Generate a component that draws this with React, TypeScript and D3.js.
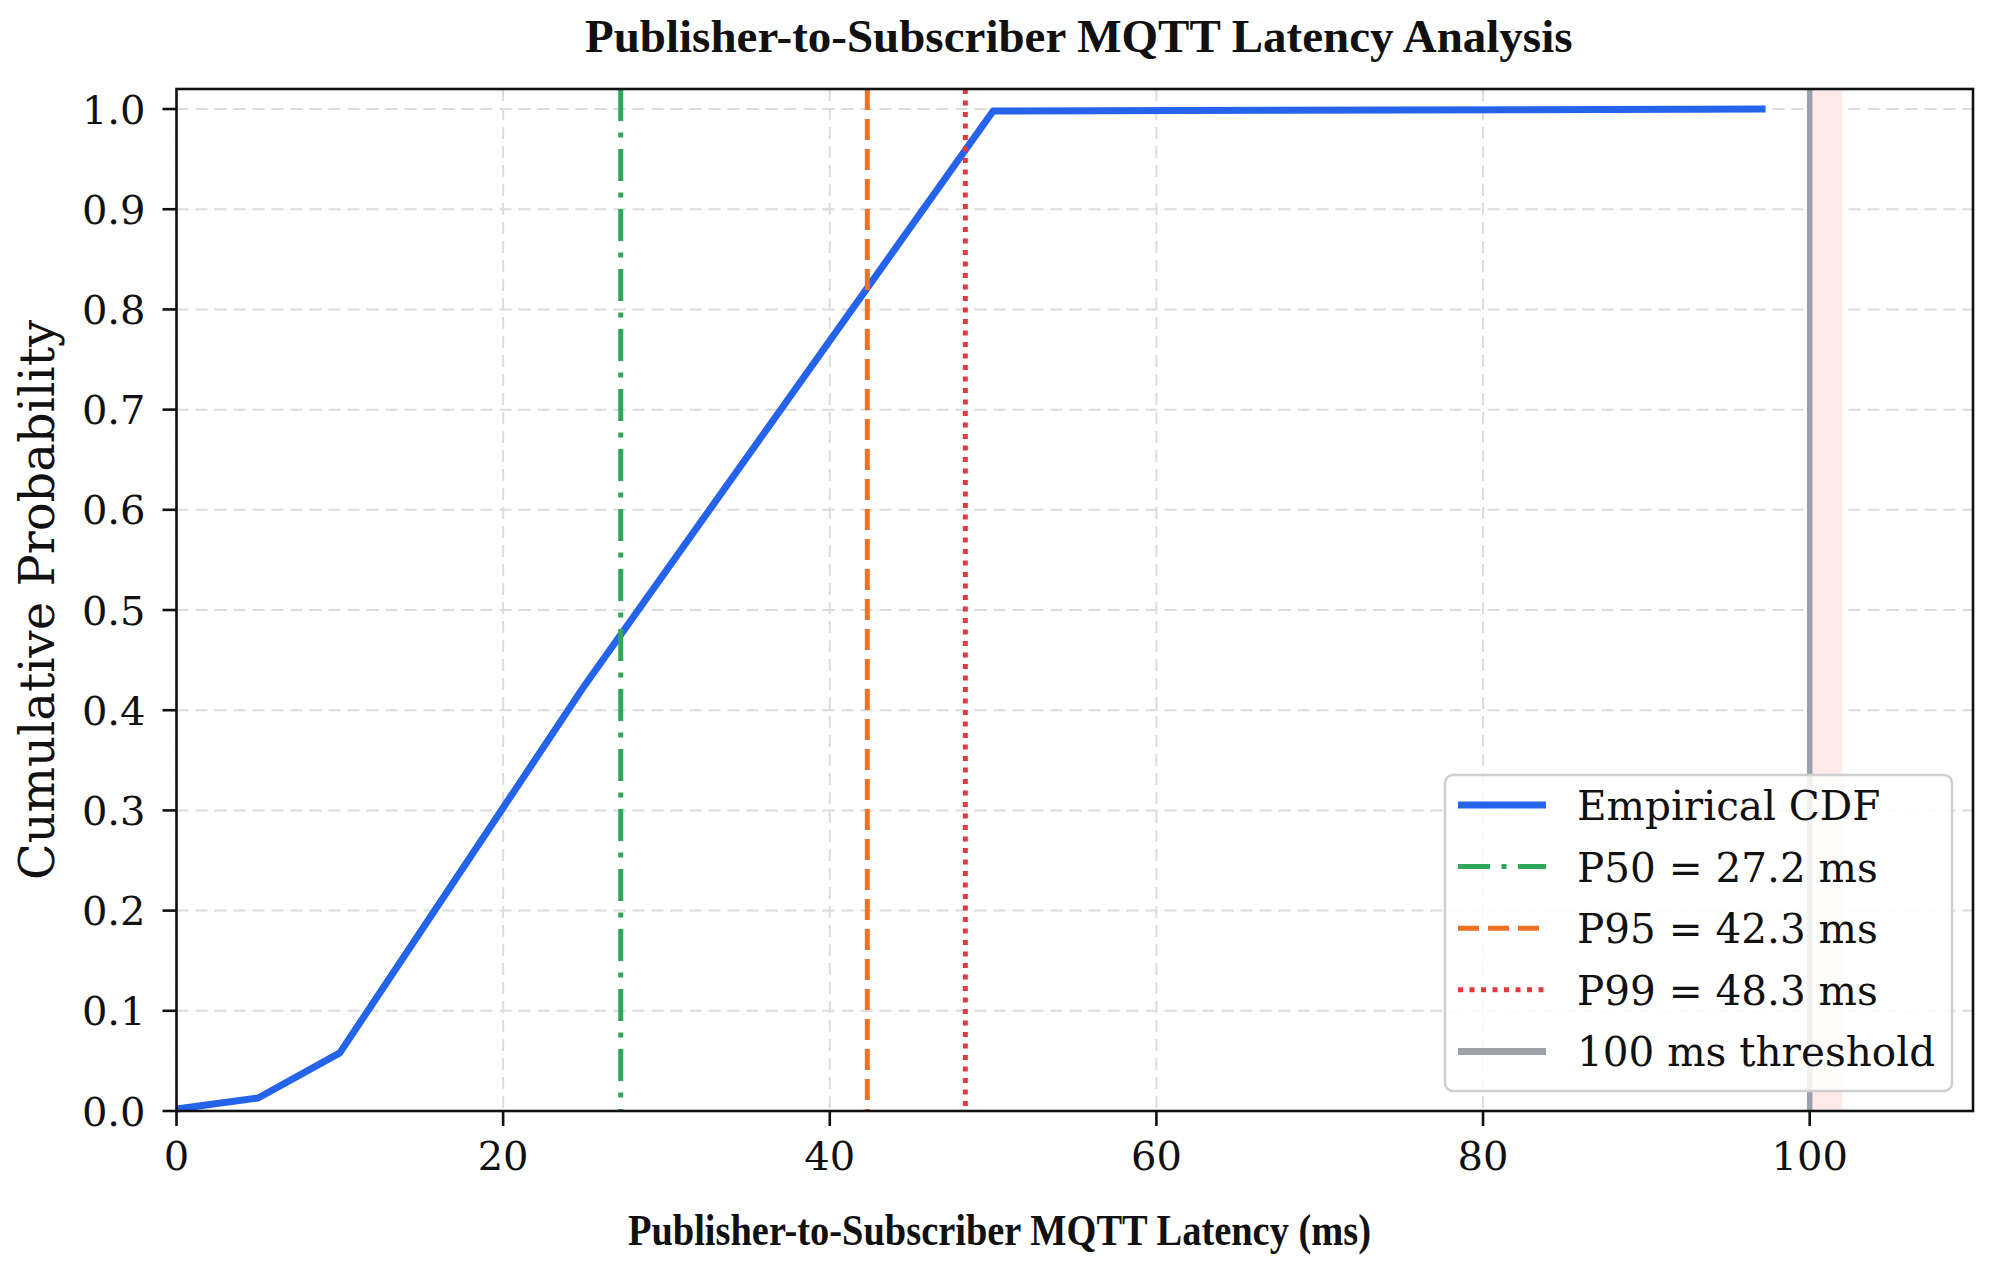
import React, { useEffect, useRef } from 'react';
import * as d3 from 'd3';

// empirical CDF
const cdfLatency = [0, 5, 10, 25, 50, 97.3];
const cdfProb = [0.002, 0.013, 0.058, 0.425, 0.998, 1.0];

const pctNames = ['P50', 'P95', 'P99'];
const pctValues = [27.2, 42.3, 48.3];
const pctColors = ['#2fa85a', '#ef7125', '#e5383b'];
const pctDash = ['32,11.5,5,11.5', '21,9', '5,6.5'];

const thresholdMs = 100;
const thresholdBand = [100, 102];

const xTicks = [0, 20, 40, 60, 80, 100];
const yTicks = [0, 0.1, 0.2, 0.3, 0.4, 0.5, 0.6, 0.7, 0.8, 0.9, 1.0];

const W = 1999;
const H = 1269;
const margin = { left: 176.5, right: 1973, top: 89, bottom: 1111 };

const App: React.FC = () => {
  const svgRef = useRef<SVGSVGElement>(null);

  useEffect(() => {
    if (!svgRef.current) return;
    const svg = d3.select(svgRef.current);
    svg.selectAll('*').remove();

    const x = d3.scaleLinear().domain([0, 110]).range([margin.left, margin.right]);
    const y = d3.scaleLinear().domain([0, 1.02]).range([margin.bottom, margin.top]);

    const serif = "'DejaVu Serif', serif";
    const times = "'Liberation Serif', 'Times New Roman', serif";

    svg.append('rect').attr('width', W).attr('height', H).attr('fill', '#fff');

    // grid
    const grid = svg.append('g').attr('stroke', '#dcdcdc').attr('stroke-width', 2).attr('stroke-dasharray', '12,7');
    grid.selectAll('line.gx').data(xTicks).join('line')
      .attr('x1', d => x(d)).attr('x2', d => x(d))
      .attr('y1', margin.top).attr('y2', margin.bottom);
    grid.selectAll('line.gy').data(yTicks).join('line')
      .attr('x1', margin.left).attr('x2', margin.right)
      .attr('y1', d => y(d)).attr('y2', d => y(d));

    // threshold band + line
    svg.append('rect')
      .attr('x', x(thresholdBand[0])).attr('width', x(thresholdBand[1]) - x(thresholdBand[0]))
      .attr('y', margin.top).attr('height', margin.bottom - margin.top)
      .attr('fill', '#fdeaea');
    svg.append('line')
      .attr('x1', x(thresholdMs)).attr('x2', x(thresholdMs))
      .attr('y1', margin.top).attr('y2', margin.bottom)
      .attr('stroke', '#9ea1a9').attr('stroke-width', 5.5);

    // CDF line
    const line = d3.line<number>().x((d, i) => x(cdfLatency[i])).y(d => y(d));
    svg.append('path')
      .attr('d', line(cdfProb))
      .attr('fill', 'none').attr('stroke', '#2563eb').attr('stroke-width', 7)
      .attr('stroke-linejoin', 'round');

    // percentile lines
    svg.selectAll('line.pct').data(pctValues).join('line')
      .attr('x1', d => x(d)).attr('x2', d => x(d))
      .attr('y1', margin.top).attr('y2', margin.bottom)
      .attr('stroke', (d, i) => pctColors[i]).attr('stroke-width', 5)
      .attr('stroke-dasharray', (d, i) => pctDash[i]);

    // frame
    svg.append('rect')
      .attr('x', margin.left).attr('y', margin.top)
      .attr('width', margin.right - margin.left).attr('height', margin.bottom - margin.top)
      .attr('fill', 'none').attr('stroke', '#111').attr('stroke-width', 2.6);

    // x ticks
    const xt = svg.append('g');
    xt.selectAll('line').data(xTicks).join('line')
      .attr('x1', d => x(d)).attr('x2', d => x(d))
      .attr('y1', margin.bottom).attr('y2', margin.bottom + 15)
      .attr('stroke', '#111').attr('stroke-width', 2.6);
    xt.selectAll('text').data(xTicks).join('text')
      .attr('x', d => x(d)).attr('y', margin.bottom + 59)
      .attr('text-anchor', 'middle')
      .attr('font-family', serif).attr('font-size', 40).attr('fill', '#111')
      .text(d => String(d));

    // y ticks
    const yt = svg.append('g');
    yt.selectAll('line').data(yTicks).join('line')
      .attr('x1', margin.left - 14).attr('x2', margin.left)
      .attr('y1', d => y(d)).attr('y2', d => y(d))
      .attr('stroke', '#111').attr('stroke-width', 2.6);
    yt.selectAll('text').data(yTicks).join('text')
      .attr('x', margin.left - 31).attr('y', d => y(d) + 14.5)
      .attr('text-anchor', 'end')
      .attr('font-family', serif).attr('font-size', 40).attr('fill', '#111')
      .text(d => d3.format('.1f')(d));

    // title & labels
    svg.append('text')
      .attr('x', (margin.left + margin.right) / 2 + 4).attr('y', 52)
      .attr('text-anchor', 'middle')
      .attr('font-family', times).attr('font-weight', 'bold').attr('font-size', 47)
      .attr('fill', '#111')
      .text('Publisher-to-Subscriber MQTT Latency Analysis');

    svg.append('text')
      .attr('x', 628).attr('y', 1245)
      .attr('textLength', 743).attr('lengthAdjust', 'spacingAndGlyphs')
      .attr('font-family', times).attr('font-weight', 'bold').attr('font-size', 44)
      .attr('fill', '#111')
      .text('Publisher-to-Subscriber MQTT Latency (ms)');

    svg.append('text')
      .attr('transform', `translate(54,${(margin.top + margin.bottom) / 2}) rotate(-90)`)
      .attr('text-anchor', 'middle')
      .attr('font-family', serif).attr('font-size', 48).attr('fill', '#111')
      .text('Cumulative Probability');

    // legend
    const legendLabels = ['Empirical CDF', ...pctNames.map((n, i) => `${n} = ${pctValues[i].toFixed(1)} ms`), `${thresholdMs} ms threshold`];
    const legendColors = ['#2563eb', ...pctColors, '#9ea1a9'];
    const legendDash = ['none', ...pctDash, 'none'];
    const legendWidth = [7, 5, 5, 5, 7];

    const lg = svg.append('g');
    lg.append('rect')
      .attr('x', 1445).attr('y', 775).attr('width', 507).attr('height', 316)
      .attr('rx', 8).attr('fill', '#fff').attr('fill-opacity', 0.85)
      .attr('stroke', '#cfcfcf').attr('stroke-width', 2.5);
    const rows = lg.selectAll('g.row').data(legendLabels).join('g')
      .attr('transform', (d, i) => `translate(0,${805 + i * 61.6})`);
    rows.append('line')
      .attr('x1', 1458).attr('x2', 1546).attr('y1', 0).attr('y2', 0)
      .attr('stroke', (d, i) => legendColors[i])
      .attr('stroke-width', (d, i) => legendWidth[i])
      .attr('stroke-dasharray', (d, i) => legendDash[i]);
    rows.append('text')
      .attr('x', 1577).attr('y', 15)
      .attr('font-family', serif).attr('font-size', 40.5).attr('fill', '#111')
      .text(d => d);
  }, []);

  return (
    <svg ref={svgRef} width={W} height={H} style={{ position: 'absolute', left: 0, top: 0 }}></svg>
  );
};

export default App;
